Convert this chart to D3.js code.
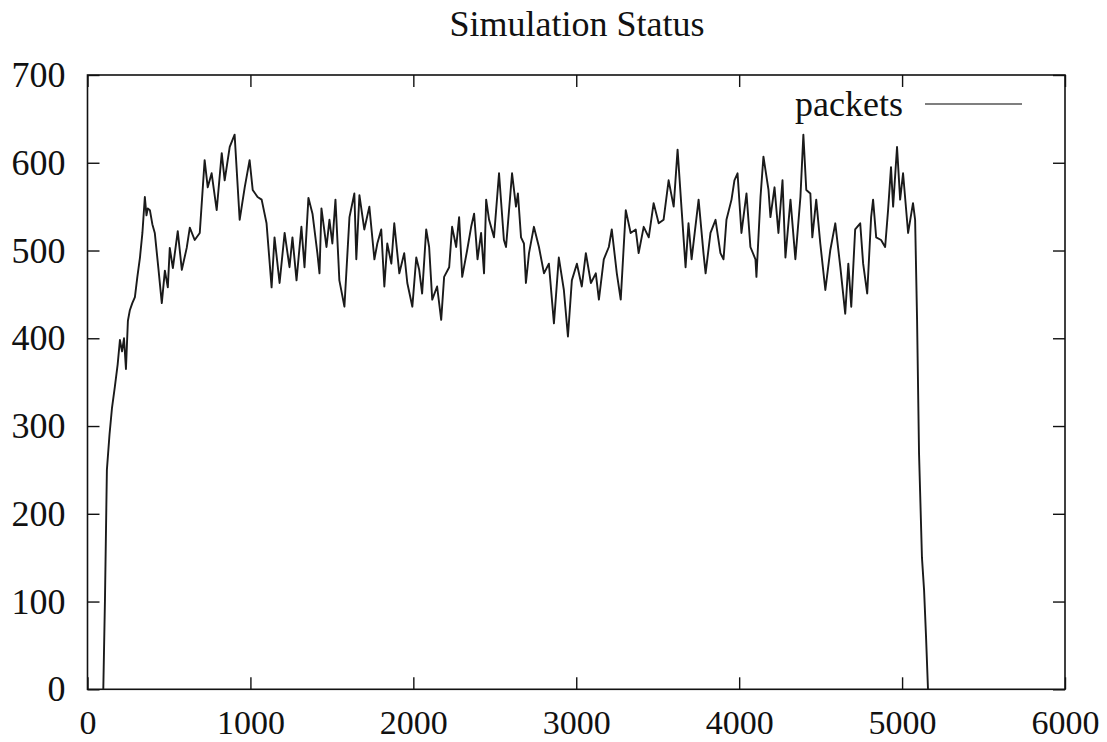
<!DOCTYPE html>
<html>
<head>
<meta charset="utf-8">
<script src="https://cdn.jsdelivr.net/npm/d3@7"></script>
<style>
  html, body { margin: 0; padding: 0; background: #fff; }
  svg { display: block; }
  text { font-family: "Liberation Serif", "DejaVu Serif", serif; fill: #111; }
</style>
</head>
<body>
<svg id="chart" width="1107" height="742"></svg>
<script>
const title = "Simulation Status";
const seriesName = "packets";
const xTicks = [0, 1000, 2000, 3000, 4000, 5000, 6000];
const yTicks = [0, 100, 200, 300, 400, 500, 600, 700];

const packetX = [97,107,119,135,150,168,185,199,212,224,236,248,260,275,291,306,322,337,352,362,370,383,398,413,435,456,475,493,505,524,554,579,609,628,658,689,719,738,762,793,824,842,873,903,934,965,995,1014,1044,1069,1099,1130,1148,1179,1210,
1240,1258,1283,1313,1332,1356,1381,1411,1424,1436,1467,1485,1503,1522,1546,1577,1608,1638,1650,1669,1699,1730,1761,1779,1803,1822,1840,1865,1883,1914,1944,1963,1994,2018,2036,2054,2079,2097,2116,2146,2171,2189,2220,2238,2263,2281,2300,2330,2355,2373,2394,2416,2434,2447,2465,
2495,2526,2556,2569,2606,2630,2642,2661,2679,2691,2710,2740,2771,2802,2832,2863,2893,2924,2949,2973,3004,3034,3059,3090,3120,3139,3169,3200,3218,3249,3273,3304,3334,3365,3383,3414,3445,3475,3506,3536,3567,3598,3622,3647,3671,
3689,3708,3751,3781,3794,3824,3855,3885,3904,3922,3953,3971,3990,4014,4045,4069,4100,4106,4131,4149,4180,4192,4217,4241,4266,4284,4315,4345,4376,4394,4412,4437,4449,4473,4498,4529,4559,4590,4621,4651,4670,4688,4712,4743,4761,4786,4810,4822,4841,4871,
4896,4914,4932,4945,4969,4988,5006,5037,5067,5080,5092,5104,5122,5135,5147,5159];

const packetY = [0,100,250,290,320,345,370,398,385,400,365,420,432,440,447,470,492,520,561,540,548,546,530,520,480,440,477,458,503,480,522,478,503,526,512,520,603,572,588,546,611,580,618,632,535,572,603,569,561,558,531,458,515,463,520,
481,515,466,527,481,560,542,497,474,548,504,535,508,558,466,436,538,565,490,563,524,550,490,508,524,459,508,485,531,474,497,463,436,492,478,451,524,504,444,459,421,470,481,527,504,538,470,500,527,542,490,520,474,558,535,
515,588,512,504,588,550,565,515,508,463,497,527,504,474,485,417,492,455,402,466,485,459,497,463,474,444,490,504,524,474,444,546,520,524,497,527,515,554,531,535,580,550,615,546,481,
531,490,558,497,474,520,535,497,490,535,558,580,588,520,565,504,490,470,561,607,569,538,572,520,580,492,558,490,561,632,569,565,515,558,508,455,500,531,481,428,485,436,524,531,485,451,538,558,515,512,
504,546,595,550,618,558,588,520,554,535,421,269,150,113,60,0];

const m = { left: 87.5, right: 1065, top: 75, bottom: 689.3 };
const svg = d3.select("#chart");

const x = d3.scaleLinear().domain([0, 6000]).range([m.left, m.right]);
const y = d3.scaleLinear().domain([0, 700]).range([m.bottom, m.top]);

// title
svg.append("text")
  .attr("x", 577).attr("y", 36)
  .attr("text-anchor", "middle")
  .style("font-size", "36px")
  .text(title);

// ticks (inward, mirrored)
const tickLen = 12;
const bottomAxis = d3.axisBottom(x).tickValues(xTicks).tickSize(-tickLen).tickPadding(21).tickFormat(d3.format("d"));
const topAxis = d3.axisTop(x).tickValues(xTicks).tickSize(-tickLen).tickFormat("");
const leftAxis = d3.axisLeft(y).tickValues(yTicks).tickSize(-tickLen).tickPadding(22).tickFormat(d3.format("d"));
const rightAxis = d3.axisRight(y).tickValues(yTicks).tickSize(-tickLen).tickFormat("");

function style(g, size) {
  g.select(".domain").remove();
  g.selectAll(".tick line").attr("stroke", "#111").attr("stroke-width", 1.4);
  g.selectAll(".tick text").style("font-family", '"Liberation Serif", serif').style("font-size", size + "px").attr("fill", "#111");
}
svg.append("g").attr("transform", `translate(0,${m.bottom})`).call(bottomAxis).call(style, 34);
svg.append("g").attr("transform", `translate(0,${m.top})`).call(topAxis).call(style, 34);
svg.append("g").attr("transform", `translate(${m.left},0)`).call(leftAxis).call(style, 36);
svg.append("g").attr("transform", `translate(${m.right},0)`).call(rightAxis).call(style, 36);

// frame
svg.append("rect")
  .attr("x", m.left).attr("y", m.top)
  .attr("width", m.right - m.left).attr("height", m.bottom - m.top)
  .attr("fill", "none").attr("stroke", "#111").attr("stroke-width", 1.6);

// series
const data = packetX.map((d, i) => [d, packetY[i]]);
const line = d3.line().x(d => x(d[0])).y(d => y(d[1]));
svg.append("path")
  .datum(data)
  .attr("d", line)
  .attr("fill", "none")
  .attr("stroke", "#1a1a1a")
  .attr("stroke-width", 1.9)
  .attr("stroke-linejoin", "round");

// legend
svg.append("text")
  .attr("x", 903).attr("y", 116)
  .attr("text-anchor", "end")
  .style("font-size", "36px")
  .text(seriesName);
svg.append("line")
  .attr("x1", 925).attr("x2", 1022)
  .attr("y1", 104).attr("y2", 104)
  .attr("stroke", "#555").attr("stroke-width", 1.5);
</script>
</body>
</html>
